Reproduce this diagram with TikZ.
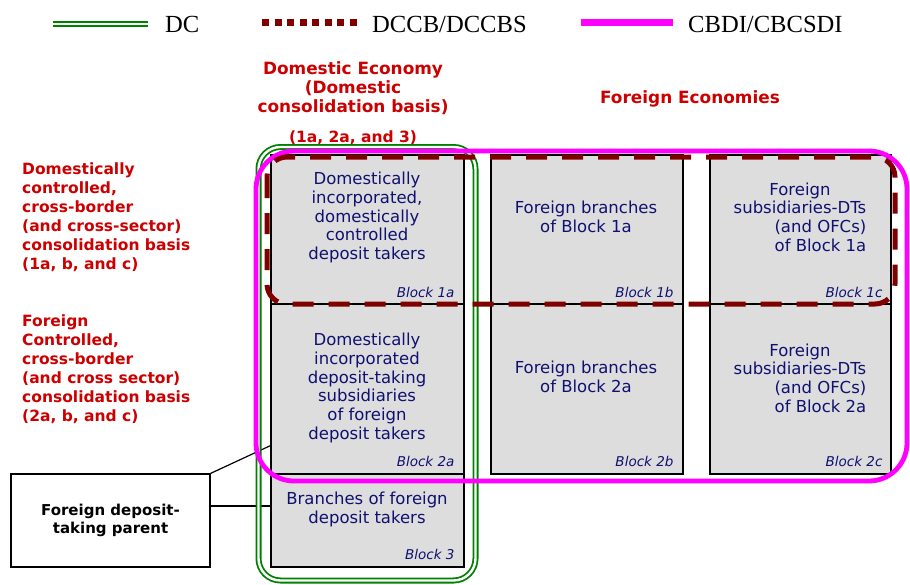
\documentclass[tikz,border=0pt]{standalone}
\usepackage{fontspec}
\setmainfont{DejaVu Sans}
\newfontfamily\legendfont{Liberation Serif}
\usetikzlibrary{positioning}

\definecolor{dcgreen}{RGB}{0,128,0}
\definecolor{dccbred}{RGB}{128,0,0}
\definecolor{cbmag}{RGB}{255,0,255}
\definecolor{headred}{RGB}{204,0,0}
\definecolor{blknavy}{RGB}{16,16,112}
\definecolor{blkgray}{RGB}{221,221,221}

\newcommand{\subsidtext}[1]{\begin{tabular}{@{}r@{}}\multicolumn{1}{@{}c@{}}{Foreign}\\subsidiaries-DTs\\(and OFCs)\\of Block #1\end{tabular}}

\tikzset{
  blk/.style={draw,fill=blkgray,line width=1.3pt,inner sep=0pt},
  blktxt/.style={text=blknavy,font=\fontsize{16.5}{18.7}\selectfont,align=center,inner sep=0pt,anchor=north},
  blklbl/.style={text=blknavy,font=\fontsize{13.5}{16}\selectfont\itshape,inner sep=0pt,anchor=base east},
  hdtxt/.style={text=headred,font=\fontsize{15.5}{19}\selectfont\bfseries,inner sep=0pt},
  bighd/.style={hdtxt,font=\fontsize{16.9}{19}\selectfont\bfseries},
  legtxt/.style={font=\fontsize{24.6}{28}\legendfont,inner sep=0pt,anchor=base west},
  dcline/.style={draw=dcgreen,line width=1.8pt,double=white,double distance=2.4pt},
  dccbline/.style={draw=dccbred,line width=5pt,dash pattern=on 21pt off 15pt},
  cbline/.style={draw=cbmag,line width=4.8pt},
  conn/.style={draw,line width=1.2pt}
}

\begin{document}
\begin{tikzpicture}[x=1pt,y=-1pt]
\useasboundingbox (0,0) rectangle (910,584);

% legend
\draw[dcline] (53,24) -- (148,24);
\node[legtxt] (lgdc) at (165,32) {DC};
\draw[draw=dccbred,line width=7pt,dash pattern=on 7pt off 5.5pt] (262,22.5) -- (357,22.5);
\node[legtxt] (lgdccb) at (372,32) {DCCB/DCCBS};
\draw[cbline,line width=7pt] (581,22.5) -- (673,22.5);
\node[legtxt] (lgcb) at (688,32) {CBDI/CBCSDI};

% headings
\node[bighd,anchor=north,align=center] (domhd) at (353,61) {Domestic Economy\\(Domestic\\consolidation basis)};
\node[hdtxt] (dombasis) at (353,138) {(1a, 2a, and 3)};
\node[bighd] (forhd) at (690,99) {Foreign Economies};
\node[hdtxt,anchor=north west,align=left] (row1) at (22,163) {Domestically\\controlled,\\cross-border\\(and cross-sector)\\consolidation basis\\(1a, b, and c)};
\node[hdtxt,anchor=north west,align=left] (row2) at (22,315) {Foreign\\Controlled,\\cross-border\\(and cross sector)\\consolidation basis\\(2a, b, and c)};

% blocks
\node[blk,minimum width=193pt,minimum height=149pt] (b1a) at (367.5,229.5) {};
\node[blk,minimum width=193pt,minimum height=170pt] (b2a) at (367.5,389) {};
\node[blk,minimum width=193pt,minimum height=93pt] (b3) at (367.5,520.5) {};
\node[blk,minimum width=192pt,minimum height=149pt] (b1b) at (587,229.5) {};
\node[blk,minimum width=192pt,minimum height=170pt] (b2b) at (587,389) {};
\node[blk,minimum width=181pt,minimum height=149pt] (b1c) at (800.5,229.5) {};
\node[blk,minimum width=181pt,minimum height=170pt] (b2c) at (800.5,389) {};

\node[blktxt] (t1a) at (367,172) {Domestically\\incorporated,\\domestically\\controlled\\deposit takers};
\node[blktxt] (t2a) at (367,333) {Domestically\\incorporated\\deposit-taking\\subsidiaries\\of foreign\\deposit takers};
\node[blktxt] (t3) at (367,492) {Branches of foreign\\deposit takers};
\node[blktxt] (t1b) at (586,201) {Foreign branches\\of Block 1a};
\node[blktxt] (t2b) at (586,361) {Foreign branches\\of Block 2a};
\node[blktxt] (t1c) at (800,182) {\subsidtext{1a}};
\node[blktxt] (t2c) at (800,343) {\subsidtext{2a}};

\node[blklbl] (l1a) at ([shift={(-10,-7)}]b1a.south east) {Block 1a};
\node[blklbl] (l2a) at ([shift={(-10,-8)}]b2a.south east) {Block 2a};
\node[blklbl] (l3) at ([shift={(-10,-8)}]b3.south east) {Block 3};
\node[blklbl] (l1b) at ([shift={(-10,-7)}]b1b.south east) {Block 1b};
\node[blklbl] (l2b) at ([shift={(-10,-8)}]b2b.south east) {Block 2b};
\node[blklbl] (l1c) at ([shift={(-9,-7)}]b1c.south east) {Block 1c};
\node[blklbl] (l2c) at ([shift={(-9,-8)}]b2c.south east) {Block 2c};

% parent
\node[draw,line width=1.2pt,minimum width=199pt,minimum height=93pt,inner sep=0pt,
  font=\fontsize{15}{18}\selectfont\bfseries,align=center] (parent) at (110.5,520.5) {Foreign deposit-\\taking parent};
\draw[conn] (parent.north east) -- ([yshift=29pt]b2a.south west);
\draw[conn] ([yshift=14.5pt]parent.east) -- ([yshift=14.5pt]b3.west);

% consolidation outlines
\draw[dcline,rounded corners=22pt] (258.5,147) rectangle (475.5,580.5);
\draw[cbline,rounded corners=38pt] (256,151) rectangle (907,481);
\draw[dccbline,rounded corners=20pt] (267,157) rectangle (895,304);

\end{tikzpicture}
\end{document}
